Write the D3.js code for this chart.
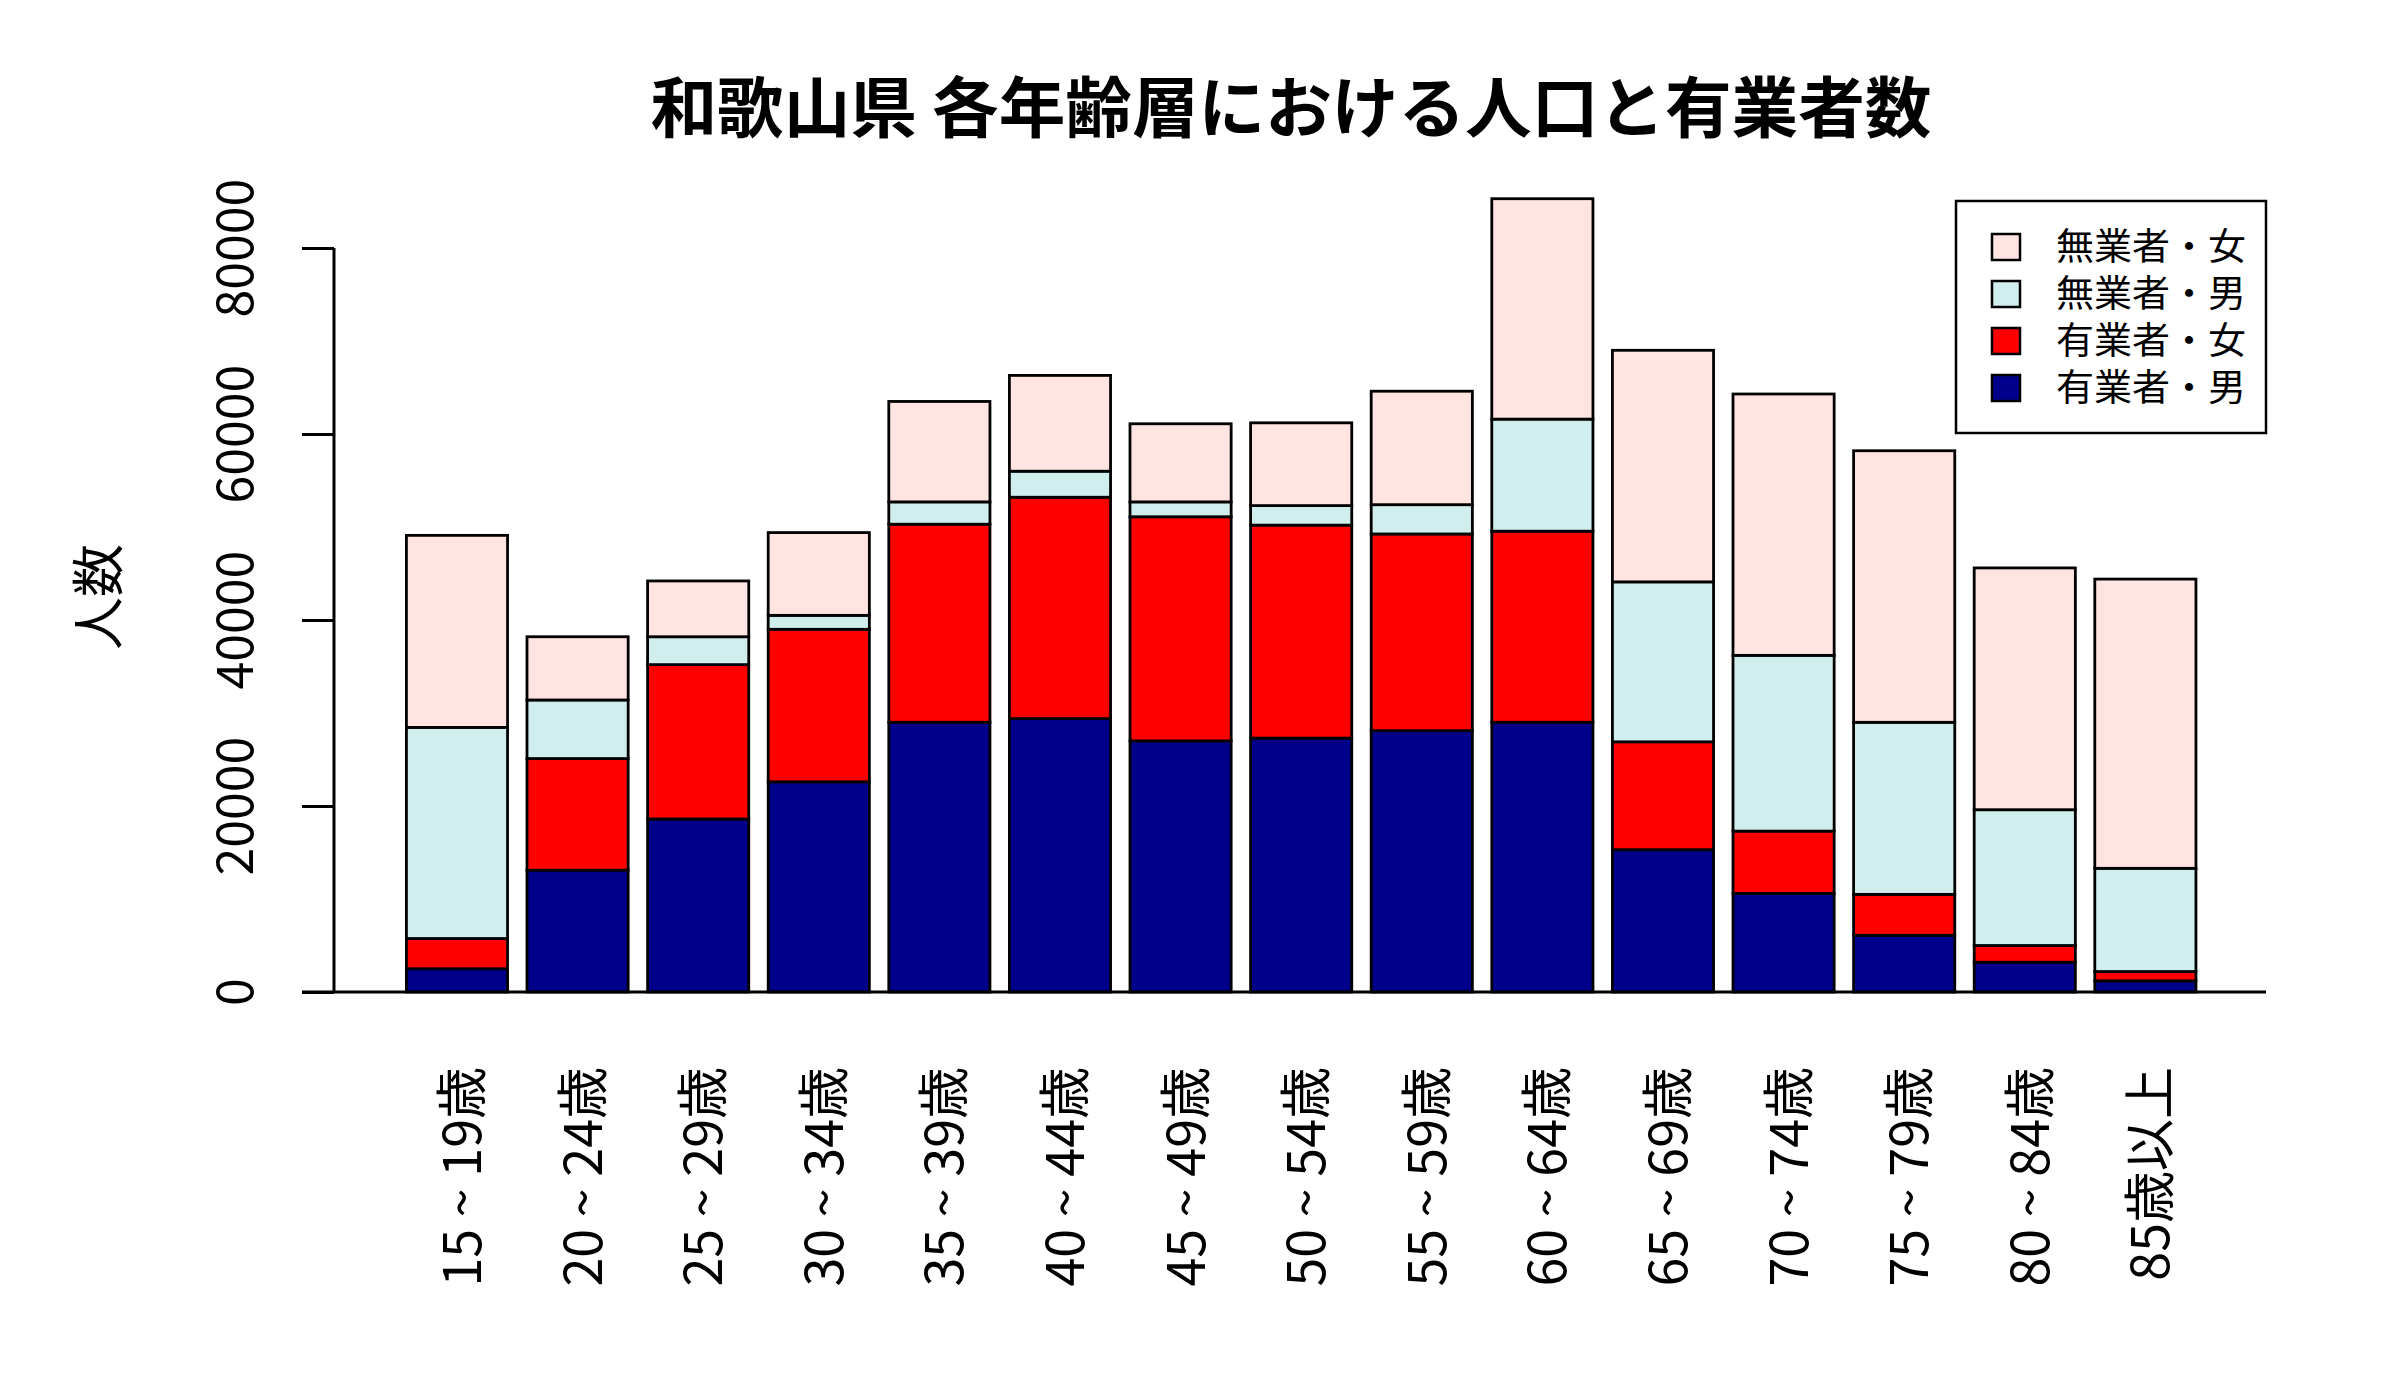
<!DOCTYPE html>
<html>
<head>
<meta charset="utf-8">
<script src="https://cdn.jsdelivr.net/npm/d3@7/dist/d3.min.js"></script>
<style>
  html, body { margin: 0; padding: 0; background: #ffffff; }
  svg { display: block; }
  text { font-family: "Noto Sans CJK JP", "Liberation Sans", sans-serif; fill: #000; }
</style>
</head>
<body>
<svg id="chart" width="2400" height="1400"></svg>
<script>
// ---- data ----
const categories = ["15 ~ 19歳", "20 ~ 24歳", "25 ~ 29歳", "30 ~ 34歳", "35 ~ 39歳",
  "40 ~ 44歳", "45 ~ 49歳", "50 ~ 54歳", "55 ~ 59歳", "60 ~ 64歳",
  "65 ~ 69歳", "70 ~ 74歳", "75 ~ 79歳", "80 ~ 84歳", "85歳以上"];
const employedMale     = [2500, 13100, 18600, 22600, 29000, 29400, 27000, 27300, 28100, 29000, 15300, 10600, 6100, 3200, 1200];
const employedFemale   = [3250, 12000, 16600, 16400, 21300, 23800, 24100, 22900, 21150, 20550, 11600, 6700, 4400, 1800, 1000];
const unemployedMale   = [22700, 6300, 3000, 1500, 2400, 2800, 1600, 2100, 3150, 12050, 17200, 18900, 18500, 14600, 11100];
const unemployedFemale = [20650, 6800, 6000, 8900, 10800, 10300, 8400, 8900, 12200, 23700, 24900, 28100, 29200, 26000, 31100];
const seriesNames  = ["有業者・男", "有業者・女", "無業者・男", "無業者・女"];
const seriesColors = ["#00008B", "#FF0000", "#D1EEEE", "#FFE4E1"];
const yTicks = [0, 20000, 40000, 60000, 80000];
const titleText = "和歌山県 各年齢層における人口と有業者数";
const yLabel = "人数";

// ---- build table ----
const seriesValues = [employedMale, employedFemale, unemployedMale, unemployedFemale];
const table = categories.map((c, i) => {
  const row = { cat: c };
  seriesNames.forEach((s, k) => { row[s] = seriesValues[k][i]; });
  return row;
});
const stacked = d3.stack().keys(seriesNames)(table);

const svg = d3.select("#chart");

// ---- scales ----
const step = 120.6, pInner = 0.138, x0 = 405;
const x = d3.scaleBand()
  .domain(categories)
  .range([x0, x0 + step * (categories.length - pInner)])
  .paddingInner(pInner)
  .paddingOuter(0);
const y = d3.scaleLinear().domain([0, 80000]).range([992, 248]);

// ---- bars ----
const sw = 2.8;
svg.append("g").selectAll("g")
  .data(stacked)
  .join("g")
  .attr("fill", (d, i) => seriesColors[i])
  .selectAll("rect")
  .data(d => d)
  .join("rect")
  .attr("x", d => x(d.data.cat) + sw / 2)
  .attr("width", x.bandwidth() - sw)
  .attr("y", d => y(d[1]))
  .attr("height", d => y(d[0]) - y(d[1]))
  .attr("stroke", "#000")
  .attr("stroke-width", sw);

// ---- baseline (x axis line) ----
svg.append("line")
  .attr("x1", 302).attr("x2", 2266)
  .attr("y1", y(0)).attr("y2", y(0))
  .attr("stroke", "#000").attr("stroke-width", 3);

// ---- y axis ----
const yAxis = d3.axisLeft(y).tickValues(yTicks).tickSize(32).tickFormat("");
const gy = svg.append("g").attr("transform", "translate(334,0)").call(yAxis);
gy.select(".domain").attr("stroke", "#000").attr("stroke-width", 3)
  .attr("d", `M0,${y(80000)}V${y(0)}`);
gy.selectAll(".tick line").attr("stroke", "#000").attr("stroke-width", 3);

svg.append("g").selectAll("text")
  .data(yTicks)
  .join("text")
  .attr("transform", d => `translate(253,${y(d)}) rotate(-90)`)
  .attr("text-anchor", "middle")
  .style("font-size", "50px")
  .text(d => d3.format("d")(d));

// ---- x labels ----
svg.append("g").selectAll("text")
  .data(categories)
  .join("text")
  .attr("transform", d => `translate(${x(d) + x.bandwidth() / 2 + 24},1067) rotate(-90)`)
  .attr("text-anchor", "end")
  .style("font-size", "52px")
  .text(d => d);

// ---- y label ----
svg.append("text")
  .attr("transform", "translate(118,597) rotate(-90)")
  .attr("text-anchor", "middle")
  .style("font-size", "53px")
  .text(yLabel);

// ---- title ----
svg.append("text")
  .attr("x", 1291).attr("y", 132)
  .attr("text-anchor", "middle")
  .attr("textLength", 1281)
  .attr("lengthAdjust", "spacingAndGlyphs")
  .style("font-size", "66px")
  .style("font-weight", "bold")
  .text(titleText);

// ---- legend ----
const legendItems = seriesNames.map((s, i) => ({ name: s, color: seriesColors[i] })).reverse();
const lg = svg.append("g");
lg.append("rect")
  .attr("x", 1956).attr("y", 201).attr("width", 310).attr("height", 232)
  .attr("fill", "#fff").attr("stroke", "#000").attr("stroke-width", 2.5);
const rowY = d3.scalePoint().domain(legendItems.map(d => d.name)).range([247, 388]);
lg.selectAll("rect.sw")
  .data(legendItems)
  .join("rect")
  .attr("class", "sw")
  .attr("x", 1992).attr("y", d => rowY(d.name) - 13)
  .attr("width", 28).attr("height", 26)
  .attr("fill", d => d.color).attr("stroke", "#000").attr("stroke-width", 2.5);
lg.selectAll("text")
  .data(legendItems)
  .join("text")
  .attr("x", 2056).attr("y", d => rowY(d.name) + 13)
  .attr("textLength", 190)
  .attr("lengthAdjust", "spacingAndGlyphs")
  .style("font-size", "37px")
  .text(d => d.name);
</script>
</body>
</html>
